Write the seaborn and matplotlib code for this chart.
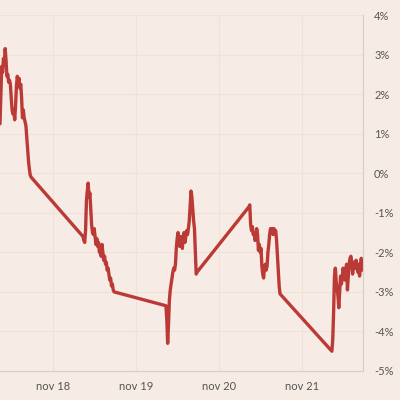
import pandas as pd
import numpy as np
import seaborn as sns
import matplotlib.pyplot as plt
import matplotlib.dates as mdates

# one 9h trading session per day, 15-min steps from 08:45
session_days = ["2014-11-17", "2014-11-18", "2014-11-19", "2014-11-20", "2014-11-21"]

s1 = [1.25, 2.0, 2.7, 2.55, 2.9, 2.75, 3.15, 2.85, 2.45, 2.5, 2.3, 2.35, 2.25,
      1.9, 1.6, 1.5, 1.6, 1.35, 1.7, 2.2, 2.45, 2.3, 2.4, 2.15, 2.25, 1.9, 1.4,
      1.6, 1.4, 1.3, 1.2, 0.9, 0.6, 0.3, 0.1, -0.05, -0.1]
s2 = [-1.6, -1.7, -1.75, -1.45, -0.7, -0.45, -0.25, -0.6, -0.5, -0.9, -1.3, -1.5,
      -1.55, -1.4, -1.6, -1.8, -1.65, -1.85, -1.75, -2.0, -1.95, -2.1, -1.8, -2.0,
      -2.2, -2.1, -2.3, -2.25, -2.45, -2.4, -2.55, -2.7, -2.65, -2.85, -2.8, -2.95, -3.0]
s3 = [-3.35, -3.7, -4.3, -3.8, -3.2, -2.95, -2.8, -2.65, -2.5, -2.4, -2.45, -2.3,
      -1.9, -1.65, -1.5, -1.75, -1.85, -1.6, -1.7, -1.9, -1.6, -1.5, -1.75, -1.6,
      -1.45, -1.55, -1.4, -1.2, -0.8, -0.45, -0.6, -0.9, -1.2, -1.4, -2.0, -2.55, -2.5]
s4 = [-0.85, -0.8, -1.3, -1.45, -1.35, -1.55, -1.5, -1.7, -1.6, -1.4, -1.55, -1.95,
      -1.8, -2.0, -1.9, -2.35, -2.55, -2.65, -2.4, -2.3, -2.45, -2.35, -2.0, -1.8,
      -1.55, -1.4, -1.5, -1.4, -1.55, -1.4, -1.5, -1.45, -1.7, -2.1, -2.5, -2.85, -3.05]
s5 = [-4.5, -4.2, -3.5, -2.6, -2.4, -2.75, -2.9, -3.1, -3.4, -3.0, -2.6, -2.8,
      -2.65, -2.4, -2.55, -2.7, -2.45, -2.3, -2.95, -2.6, -2.3, -2.15, -2.1, -2.25,
      -2.55, -2.35, -2.25, -2.4, -2.2, -2.35, -2.5, -2.3, -2.6, -2.4, -2.15, -2.45, -2.4]
sessions = [s1, s2, s3, s4, s5]

tick_days = ["2014-11-18", "2014-11-19", "2014-11-20", "2014-11-21"]
tick_labels = ["nov 18", "nov 19", "nov 20", "nov 21"]
y_ticks = [4, 3, 2, 1, 0, -1, -2, -3, -4, -5]

rows = []
for day, vals in zip(session_days, sessions):
    t = pd.date_range(pd.Timestamp(day) + pd.Timedelta(hours=8.75), periods=len(vals), freq="15min")
    rows.append(pd.DataFrame({"time": t, "change": vals}))
df = pd.concat(rows, ignore_index=True)

bg = "#f7ebe5"
sns.set_theme(style="white")
plt.rcParams["font.family"] = ["Lato", "DejaVu Sans"]

fig = plt.figure(figsize=(4, 4), dpi=100, facecolor=bg)
ax = fig.add_axes([0, 0.0725, 0.9075, 0.89])
ax.set_facecolor(bg)

sns.lineplot(data=df, x="time", y="change", estimator=None, color="#bb3a36",
             linewidth=2.4, ax=ax)

ax.set_xlim(pd.Timestamp("2014-11-17 08:45"), pd.Timestamp("2014-11-21 17:45"))
ax.set_ylim(-5, 4)
ax.set_xticks([pd.Timestamp(d) for d in tick_days])
ax.set_xticklabels(tick_labels)
ax.set_yticks(y_ticks)
ax.set_yticklabels([f"{v}%" for v in y_ticks])
ax.yaxis.tick_right()
ax.grid(True, color="#f0e2d8", linewidth=0.8)
ax.set_axisbelow(True)
ax.set_xlabel("")
ax.set_ylabel("")
ax.tick_params(axis="both", length=0, labelsize=8, labelcolor="#555555")
ax.tick_params(axis="y", pad=8)
ax.tick_params(axis="x", pad=7)
for side in ["top", "left"]:
    ax.spines[side].set_visible(False)
for side in ["right", "bottom"]:
    ax.spines[side].set_color("#d8ccc6")
    ax.spines[side].set_linewidth(0.8)

fig.savefig("out.png", dpi=100, facecolor=bg)
